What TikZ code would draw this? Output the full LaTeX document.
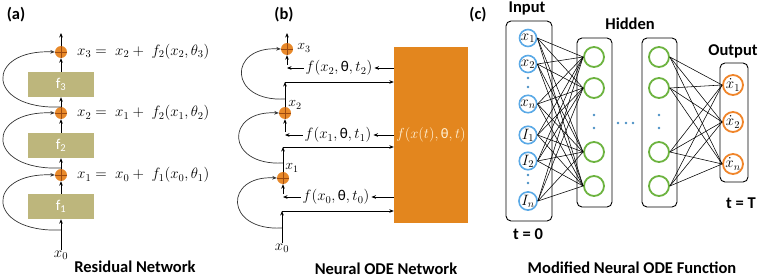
\RequirePackage{fix-cm}
\documentclass[tikz,border=0pt]{standalone}
\usepackage[no-math]{fontspec}
\setmainfont{Carlito}
\newfontfamily\carl{Carlito}
\usetikzlibrary{arrows.meta}
\definecolor{plusfill}{HTML}{E8892A}
\definecolor{plusline}{HTML}{9C4A10}
\definecolor{khaki}{HTML}{BDB67C}
\definecolor{odeor}{HTML}{E3861E}
\definecolor{odetext}{HTML}{FFF1D6}
\definecolor{inblue}{HTML}{5AA9E6}
\definecolor{hidgreen}{HTML}{6CB33F}
\definecolor{outor}{HTML}{F0852A}
\definecolor{dotblue}{HTML}{4A8FC4}
\definecolor{skipc}{HTML}{333333}
\begin{document}
\begin{tikzpicture}[x=1pt,y=-1pt,
  lab/.style={font=\bfseries\fontsize{16.5}{19}\selectfont, inner sep=0pt},
  eq/.style={font=\fontsize{15}{18}\selectfont, inner sep=1pt},
  feq/.style={font=\fontsize{15}{18}\selectfont, inner sep=2pt},
  sm/.style={font=\fontsize{14}{16}\selectfont, inner sep=0pt},
  arr/.style={-{Stealth[length=4.5pt,width=3.6pt]}, line width=0.8pt},
  sk/.style={-{Stealth[length=4.5pt,width=3.6pt]}, line width=0.7pt, draw=skipc},
  plus/.style={circle, fill=plusfill, minimum size=12pt, inner sep=0pt,
    path picture={\draw[plusline, line width=0.6pt]
      (path picture bounding box.north) -- (path picture bounding box.south)
      (path picture bounding box.west) -- (path picture bounding box.east);}},
  fbox/.style={fill=khaki, minimum width=66pt, minimum height=25pt, inner sep=0pt,
    text=white, font=\fontsize{15}{17}\selectfont},
  layer/.style={draw, rounded corners=5pt, line width=0.9pt, inner sep=0pt},
  innode/.style={circle, draw=inblue, line width=1.6pt, minimum size=17pt, inner sep=0pt,
    font=\fontsize{15}{16}\selectfont},
  hidnode/.style={circle, draw=hidgreen, line width=1.8pt, minimum size=20pt, inner sep=0pt},
  outnode/.style={circle, draw=outor, line width=1.8pt, minimum size=20pt, inner sep=0pt,
    font=\fontsize{15}{16}\selectfont},
  net/.style={line width=0.55pt},
  bdot/.style={circle, fill=dotblue, minimum size=2.8pt, inner sep=0pt}
]
\useasboundingbox (0,0) rectangle (760,278);

% ---------------- panel (a)
\node[lab] (la) at (16,15) {(a)};
\node[plus] (a3) at (61,52) {};
\node[plus] (a2) at (61,113) {};
\node[plus] (a1) at (61,175) {};
\node[fbox] (f3) at (61,84.5) {f\textsubscript{3}};
\node[fbox] (f2) at (61,145.5) {f\textsubscript{2}};
\node[fbox] (f1) at (61,206.5) {f\textsubscript{1}};
\node[sm, font=\fontsize{15}{17}\selectfont] (ax0) at (61,255) {$x_0$};
\coordinate (atop) at (61,33);
\draw[arr] (ax0.north) -- (f1.south);
\draw[arr] (f1.north) -- (a1.south);
\draw[arr] (a1.north) -- (f2.south);
\draw[arr] (f2.north) -- (a2.south);
\draw[arr] (a2.north) -- (f3.south);
\draw[arr] (f3.north) -- (a3.south);
\draw[arr] (a3.north) -- (atop);
\coordinate (s1) at (61,230);
\coordinate (s2) at (61,168);
\coordinate (s3) at (61,107);
\draw[sk] (s1) .. controls (-15,233) and (-15,172) .. (a1.west);
\draw[sk] (s2) .. controls (-15,171) and (-15,110) .. (a2.west);
\draw[sk] (s3) .. controls (-15,110) and (-15,49) .. (a3.west);
\node[eq, anchor=west] (e3) at (76,52) {$x_3 =\; x_2 +\; f_2(x_2,\theta_3)$};
\node[eq, anchor=west] (e2) at (76,113) {$x_2 =\; x_1 +\; f_2(x_1,\theta_2)$};
\node[eq, anchor=west] (e1) at (76,175) {$x_1 =\; x_0 +\; f_1(x_0,\theta_1)$};
\node[lab] (ta) at (135,267) {Residual Network};

% ---------------- panel (b)
\node[lab] (lb) at (284,15) {(b)};
\node[fill=odeor, minimum width=74pt, minimum height=176pt, inner sep=0pt,
  text=odetext, font=\fontsize{14.5}{16}\selectfont] (ode) at (431,135)
  {$f(x(t),\mbox{\carl θ},t)$};
\node[plus] (b3) at (287,49) {};
\node[plus] (b2) at (285,113) {};
\node[plus] (b1) at (283,178) {};
\node[sm, font=\fontsize{15}{17}\selectfont] (bx0) at (282,248) {$x_0$};
\node[sm] (lx1) at (292,168) {$x_1$};
\node[sm] (lx2) at (295,105) {$x_2$};
\node[sm] (lx3) at (304,48) {$x_3$};
\coordinate (k0) at (282,211);
\coordinate (k1) at (283,147);
\coordinate (k2) at (285,82);
\coordinate (btop) at (287,33);
\draw[arr] (bx0.north) -- (k0);
\draw[arr] (k0) -- (k0 -| ode.west);
\draw[arr] (b1.north) -- (k1);
\draw[arr] (k1) -- (k1 -| ode.west);
\draw[arr] (b2.north) -- (k2);
\draw[arr] (k2) -- (k2 -| ode.west);
\draw[arr] (b3.north) -- (btop);
\node[feq] (g0) at (336,197) {$f(x_0,\mbox{\carl θ},t_0)$};
\node[feq] (g1) at (338,135) {$f(x_1,\mbox{\carl θ},t_1)$};
\node[feq] (g2) at (339,68) {$f(x_2,\mbox{\carl θ},t_2)$};
\draw[arr] (ode.west |- g0) -- (g0.east);
\draw[arr] (ode.west |- g1) -- (g1.east);
\draw[arr] (ode.west |- g2) -- (g2.east);
\coordinate (m0) at (283,197);
\coordinate (m1) at (285,135);
\coordinate (m2) at (287,68);
\draw[arr] (g0.west) -- (m0);
\draw[arr] (g1.west) -- (m1);
\draw[arr] (g2.west) -- (m2);
\draw[arr] (283,194) -- (b1.south);
\draw[arr] (285,132) -- (b2.south);
\draw[arr] (287,65) -- (b3.south);
\coordinate (t0) at (282,228);
\coordinate (t1) at (283,163);
\coordinate (t2) at (285,99);
\draw[sk] (t0) .. controls (224,231) and (224,175) .. (b1.west);
\draw[sk] (t1) .. controls (225,166) and (225,110) .. (b2.west);
\draw[sk] (t2) .. controls (228,102) and (228,46) .. (b3.west);
\node[lab] (tb) at (386,269) {Neural ODE Network};

% ---------------- panel (c)
\node[lab] (lc) at (478,15) {(c)};
\node[lab] (tin) at (527,8) {Input};
\node[lab] (thid) at (630,24) {Hidden};
\node[lab] (tout) at (733,51) {Output};
\node[layer, minimum width=46pt, minimum height=200pt] (inbox) at (529,121) {};
\node[layer, minimum width=35pt, minimum height=169pt] (hb1) at (594.5,122.5) {};
\node[layer, minimum width=35pt, minimum height=169pt] (hb2) at (659.5,122.5) {};
\node[layer, minimum width=28pt, minimum height=119pt] (ob) at (734,122.5) {};
\node[innode] (i1) at (528,38) {$x_1$};
\node[innode] (i2) at (528,64) {$x_2$};
\node[innode] (i3) at (528,104) {$x_n$};
\node[innode] (i4) at (528,135) {$I_1$};
\node[innode] (i5) at (528,161) {$I_2$};
\node[innode] (i6) at (528,201) {$I_n$};
\node[hidnode] (h1) at (594,57) {};
\node[hidnode] (h2) at (594,88) {};
\node[hidnode] (h3) at (594,152) {};
\node[hidnode] (h4) at (594,186) {};
\node[hidnode] (k1) at (659,57) {};
\node[hidnode] (k2) at (659,88) {};
\node[hidnode] (k3) at (659,152) {};
\node[hidnode] (k4) at (659,186) {};
\node[outnode] (o1) at (733,85) {$\dot{x}_1$};
\node[outnode] (o2) at (733,122) {$\dot{x}_2$};
\node[outnode] (o3) at (733,164) {$\dot{x}_n$};
\foreach \i in {1,...,6}{\foreach \j in {1,...,4}{\draw[net] (i\i.east) -- (h\j.west);}}
\foreach \i in {1,...,4}{\foreach \j in {1,2,3}{\draw[net] (k\i.east) -- (o\j.west);}}
\node[bdot] (d1) at (528,78) {};
\node[bdot] (d2) at (528,87) {};
\node[bdot] (d3) at (528,175) {};
\node[bdot] (d4) at (528,183) {};
\node[bdot] (d5) at (594,115) {};
\node[bdot] (d6) at (594,128) {};
\node[bdot] (d7) at (659,115) {};
\node[bdot] (d8) at (659,128) {};
\node[bdot] (d9) at (618,123) {};
\node[bdot] (d10) at (626,123) {};
\node[bdot] (d11) at (633,123) {};
\node[lab] (tz) at (528,234) {t = 0};
\node[lab] (tT) at (741,203) {t = T};
\node[lab] (tc) at (632,268) {Modified Neural ODE Function};
\end{tikzpicture}
\end{document}
